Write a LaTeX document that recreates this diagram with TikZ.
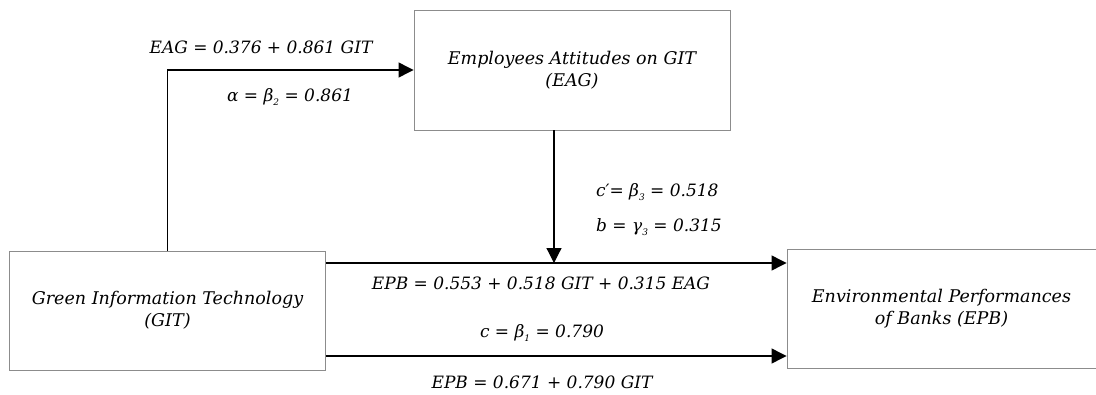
\documentclass[tikz,border=0pt]{standalone}
\usepackage{fontspec}
\setmainfont{DejaVu Serif}
\usetikzlibrary{arrows.meta}
\newcommand{\sbx}[1]{\raisebox{-4pt}{\fontsize{9}{9}\selectfont #1}}
\tikzset{
  box/.style={draw=black!45, line width=0.9pt, align=center, inner sep=0pt, font=\fontsize{17.5}{22}\selectfont\itshape},
  arr/.style={draw=black, line width=1.2pt, -{Triangle[length=15pt,width=15pt]}},
  lbl/.style={inner sep=0pt, anchor=center, font=\fontsize{17}{20}\selectfont\itshape}
}
\begin{document}
\begin{tikzpicture}[x=1pt,y=-1pt]
\useasboundingbox (0,0) rectangle (1096,394);
\node[box, minimum width=316pt, minimum height=120pt] (EAG) at (572,70) {Employees Attitudes on GIT\\(EAG)};
\node[box, minimum width=316pt, minimum height=119pt] (GIT) at (167.5,310.5) {Green Information Technology\\(GIT)};
\node[box, minimum width=309pt, minimum height=119pt] (EPB) at (941.5,308.5) {Environmental Performances\\of Banks (EPB)};
\coordinate (j) at (554,263);
\coordinate (k) at (554,356);
\draw[arr] (GIT.north) |- (EAG.west);
\draw[arr] (EAG.south -| j) -- (j);
\draw[arr] (GIT.east |- j) -- (EPB.west |- j);
\draw[arr] (GIT.east |- k) -- (EPB.west |- k);
\node[lbl] (l1) at (261,47) {EAG = 0.376 + 0.861 GIT};
\node[lbl] (l2) at (290,97) {α = β\sbx{2} = 0.861};
\node[lbl, anchor=west] (l3) at (596,192) {c′= β\sbx{3} = 0.518};
\node[lbl, anchor=west] (l4) at (596,227) {b = γ\sbx{3} = 0.315};
\node[lbl] (l5) at (541,283) {EPB = 0.553 + 0.518 GIT + 0.315 EAG};
\node[lbl] (l6) at (542,333) {c = β\sbx{1} = 0.790};
\node[lbl] (l7) at (542,382) {EPB = 0.671 + 0.790 GIT};
\end{tikzpicture}
\end{document}
